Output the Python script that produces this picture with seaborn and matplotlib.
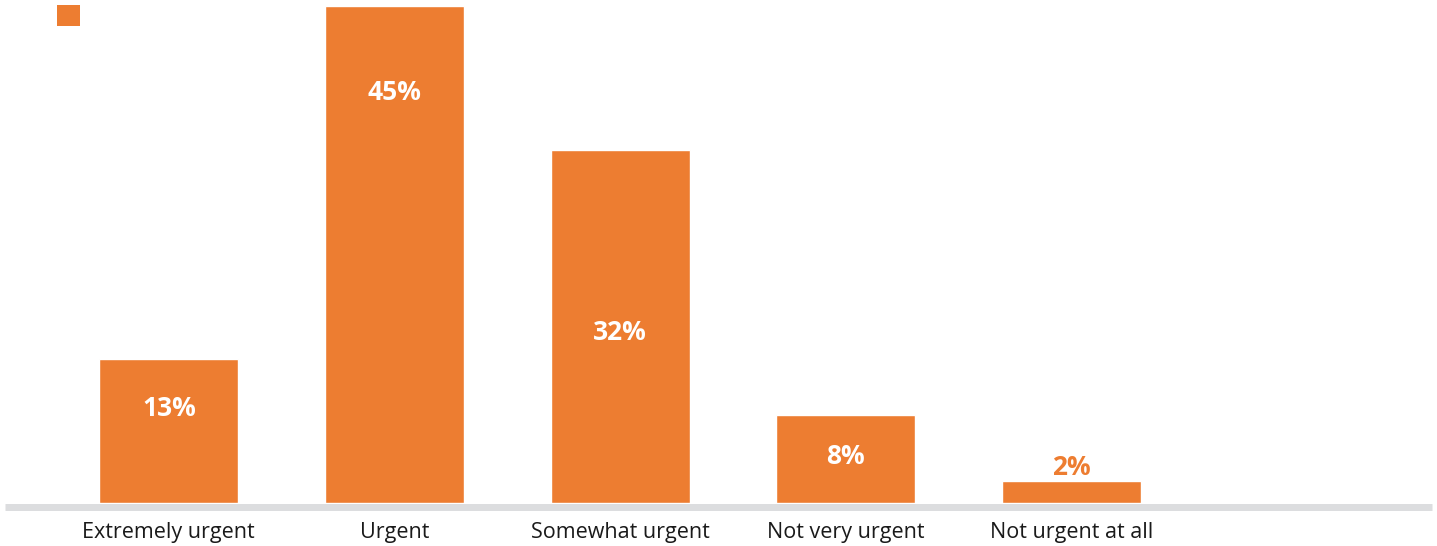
import matplotlib
matplotlib.use("Agg")
import matplotlib.pyplot as plt
from matplotlib.patches import Patch
import pandas as pd
import seaborn as sns

# Survey responses: perceived urgency
categories = ["Extremely urgent", "Urgent", "Somewhat urgent", "Not very urgent", "Not urgent at all"]
values = [13, 45, 32, 8, 2]
value_labels = ["13%", "45%", "32%", "8%", "2%"]
# vertical placement of each value label (data units)
label_y = [8.6, 37.2, 15.4, 4.25, 3.2]
label_inside = [True, True, True, True, False]

ORANGE = "#ED7D31"
GREY = "#DCDDDF"
TEXT = "#1A1A1A"

sns.set_theme(style="white")
plt.rcParams["font.family"] = ["Open Sans", "DejaVu Sans"]

df = pd.DataFrame({"category": categories, "value": values})

fig = plt.figure(figsize=(14.37, 5.46), dpi=100)
ax = fig.add_axes([5 / 1437, 43 / 546, 1427 / 1437, 497 / 546])

sns.barplot(data=df, x="category", y="value", color=ORANGE, saturation=1,
            width=0.616, ax=ax, zorder=3)

ax.set_xlim(-0.726, 5.599)
ax.set_ylim(0, 45)

# thick grey baseline just beneath the bars
ax.axhline(-0.317, color=GREY, lw=5.0, clip_on=False, zorder=2,
           solid_capstyle="butt")

for i, (lab, y, inside) in enumerate(zip(value_labels, label_y, label_inside)):
    ax.text(i, y, lab, ha="center", va="center", fontsize=19, fontweight="bold",
            color="white" if inside else ORANGE, zorder=4)

for s in ax.spines.values():
    s.set_visible(False)
ax.set_yticks([])
ax.set_xlabel("")
ax.set_ylabel("")
ax.tick_params(axis="x", length=0, pad=13.5, labelsize=15.5, labelcolor=TEXT)

fig.legend(handles=[Patch(facecolor=ORANGE, edgecolor="none")], labels=[""],
           loc="upper left", bbox_to_anchor=(57 / 1437, 1 - 5 / 546),
           frameon=False, borderpad=0, borderaxespad=0,
           handlelength=1.1, handleheight=1.2, handletextpad=0, fontsize=15)

fig.savefig("out.png", dpi=100, facecolor="white")
